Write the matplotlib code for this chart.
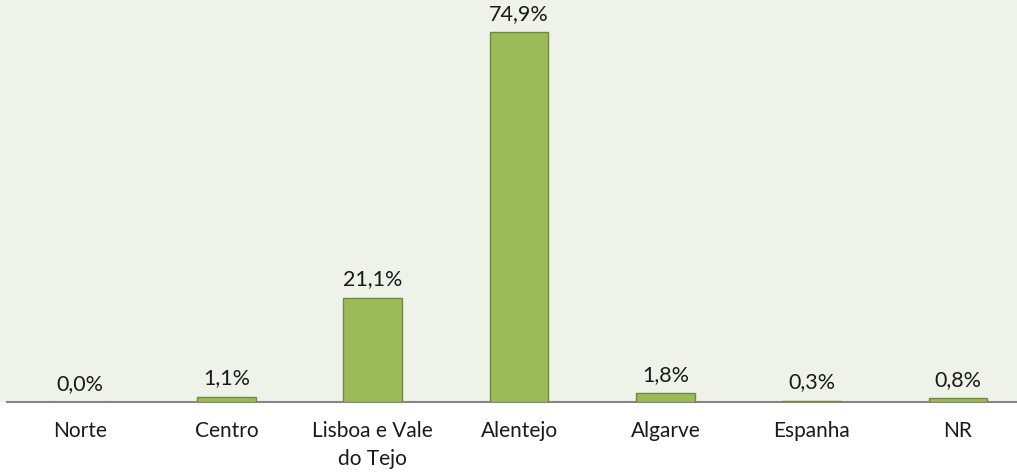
import matplotlib
matplotlib.use("Agg")
import matplotlib.pyplot as plt
from matplotlib.patches import Rectangle

categories = ["Norte", "Centro", "Lisboa e Vale\ndo Tejo", "Alentejo", "Algarve", "Espanha", "NR"]
values = [0.0, 1.1, 21.1, 74.9, 1.8, 0.3, 0.8]
labels = ["0,0%", "1,1%", "21,1%", "74,9%", "1,8%", "0,3%", "0,8%"]

plt.rcParams['font.family'] = ['Lato', 'DejaVu Sans']

W, H = 1017, 475
fig = plt.figure(figsize=(W/100, H/100), dpi=100)
fig.patch.set_facecolor("white")

bg = "#EFF2E8"
axis_y = 402
left_px = 7
ax = fig.add_axes([left_px/W, 1 - axis_y/H, (W - left_px)/W, axis_y/H])
fig.patches.append(Rectangle((0, 1 - axis_y/H), 1, axis_y/H, transform=fig.transFigure,
                             facecolor=bg, edgecolor="none", zorder=-10))
ax.set_facecolor(bg)

x = list(range(len(categories)))
ax.bar(x, values, width=0.40, color="#9BBB59", edgecolor="#71893F", linewidth=1.0, zorder=3)

spacing = 146.3
ax.set_xlim(-0.5, -0.5 + (W - left_px)/spacing)
ax.set_ylim(0, axis_y / (370/74.9))

for xi, v, lab in zip(x, values, labels):
    ax.annotate(lab, (xi, v), xytext=(0, 6), textcoords="offset points",
                ha="center", va="bottom", fontsize=15.5, color="#1a1a1a")

for s in ["top", "left", "right"]:
    ax.spines[s].set_visible(False)
ax.spines["bottom"].set_color("#868686")
ax.spines["bottom"].set_linewidth(1.5)
ax.set_yticks([])
ax.set_xticks(x)
ax.set_xticklabels(categories, fontsize=15, color="#1a1a1a", linespacing=1.45)
ax.tick_params(axis="x", length=0, pad=14)

fig.savefig("out.png", dpi=100, facecolor="white")
